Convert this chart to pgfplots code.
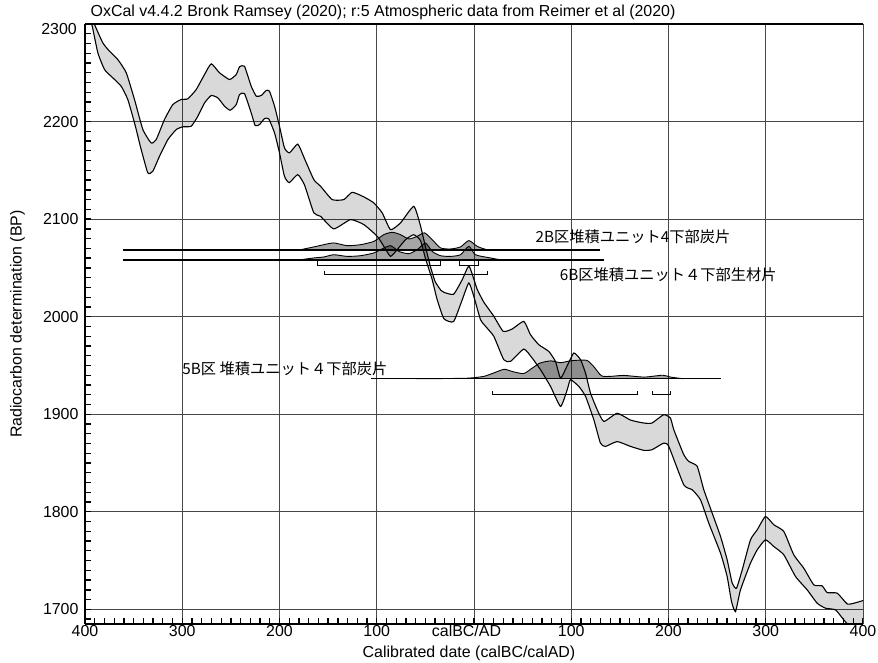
\documentclass[border=0pt]{standalone}
\usepackage{pgfplots}
\pgfplotsset{compat=1.18}
\usepgfplotslibrary{fillbetween}
\usepackage{fontspec}
\setmainfont{Liberation Sans}
\newfontfamily\jp{Noto Sans CJK JP}
\definecolor{gridc}{RGB}{70,70,70}
\begin{document}
\begin{tikzpicture}
\begin{axis}[name=ax, scale only axis, width=778bp, height=600bp,
  xmin=-400, xmax=400, ymin=1685, ymax=2300,
  axis line style={draw=none},
  xtick={-400,-300,...,400},
  xticklabels={400,300,200,100,{calBC/AD\kern15bp},100,200,300,400},
  ytick={1700,1800,...,2300},
  yticklabels={1700,1800,1900,2000,2100,2200,{}},
  minor xtick={-400,-390,...,400}, minor ytick={1690,1700,...,2300},
  grid=major, major grid style={draw=gridc, line width=0.9bp},
  tick align=inside, xtick pos=left, ytick pos=left,
  major tick length=6bp, minor tick length=6bp,
  tick style={black, line width=1.3bp},
  tick label style={font=\fontsize{16}{18}\selectfont},
  xticklabel style={yshift=2.5bp},
  yticklabel style={xshift=-3bp},
  /pgf/number format/assume math mode=true,
]
% calibration curve (upper and lower)
\addplot[name path=U, draw=black, line width=1.1bp, smooth, tension=0.3] coordinates {
(-400,2325) (-390.2,2299.5) (-381.7,2280.7) (-374.8,2272.1) (-366.3,2263.6) (-357.6,2250)
(-349.1,2222.6) (-340.5,2191.8) (-332,2178.1) (-326.8,2181.5) (-318.3,2202) (-309.7,2217.4)
(-301.1,2222.6) (-294.3,2223.3) (-285.7,2232.8) (-277.1,2248.2) (-270.2,2259.2) (-261.7,2250)
(-251.4,2243.1) (-244.5,2248.2) (-241.1,2256.1) (-236,2256.7) (-229.1,2236.2) (-223.9,2226)
(-218.8,2226.7) (-213.7,2231.8) (-210.3,2231.1) (-205.1,2215.7) (-200,2195.2) (-194.9,2173)
(-189.7,2167.9) (-181.2,2176.9) (-174.3,2162) (-164.7,2140.5) (-157.8,2133.7) (-145.8,2120)
(-133.9,2120) (-125.3,2127.5) (-113.3,2122.8) (-103,2116.6) (-94.4,2106.4) (-85.9,2089.2)
(-75.6,2096.1) (-61.9,2113.1) (-55,2093) (-50,2072) (-45,2052) (-40,2036) (-34,2027)
(-31,2025) (-21,2023) (-12.1,2038) (-5.3,2052) (0,2038) (3.3,2028) (10,2015) (20,2001)
(30,1985) (39.3,1987.4) (51.2,1995.2) (58.1,1981.5) (66.6,1971.3) (76.9,1964.4) (83.8,1954)
(89,1937) (96,1950) (102.6,1962.8) (109.5,1956) (114.7,1942) (119.8,1921.7) (126.7,1904.6)
(133.5,1892.6) (147.2,1901) (161,1894) (174.6,1891) (183,1891) (195,1899.5) (202,1896)
(205.5,1884) (215.7,1858.5) (220.9,1851.6) (229.5,1846.6) (236.3,1822.6) (244.9,1798.7)
(253.5,1774.7) (260.3,1750.8) (265.5,1726.9) (269.9,1721.7) (275.8,1740.5) (284.3,1771.3)
(291.2,1781.5) (299.7,1795.2) (308.3,1786.7) (318.6,1779.8) (328.8,1755.9) (339.1,1742.2)
(349.4,1725.1) (358,1724.1) (363.2,1717.2) (373.5,1716.6) (383.7,1705.6) (390.6,1706.3) (400,1709)
};
\addplot[name path=L, draw=black, line width=1.1bp, smooth, tension=0.3] coordinates {
(-400,2318) (-393,2299.5) (-386.8,2270.5) (-379.9,2253.3) (-371.4,2244.8) (-362.8,2236.2)
(-356,2222.6) (-349.1,2198.7) (-342.2,2171.3) (-335.4,2147.4) (-330.3,2149) (-323.4,2164.4)
(-314.8,2181.5) (-306.2,2191.8) (-299.4,2194.6) (-290.8,2195.2) (-284,2205.4) (-277.1,2219.1)
(-270.2,2226.7) (-263.4,2224.3) (-256.5,2215.7) (-250.7,2211.6) (-244.5,2217.4) (-241.1,2227.7)
(-236,2228.7) (-229.1,2208.9) (-225,2195.9) (-220.6,2196.9) (-215.4,2203.1) (-211,2202.7)
(-205.1,2188.4) (-200,2167.9) (-194.9,2143.9) (-190,2137.4) (-181.2,2145.6) (-174.3,2135)
(-164.7,2106.4) (-157.8,2102.9) (-144.2,2090) (-127,2099.5) (-113.3,2094.4) (-99.5,2082.4)
(-92.7,2072.1) (-85.9,2061.8) (-79,2068.7) (-70.4,2079) (-62,2084) (-55,2078) (-50,2060)
(-43,2038) (-38,2018) (-31,1998) (-21,1995) (-12.1,2017.4) (-5.3,2034.6) (-0.2,2020.8)
(6.7,1997) (12,1990) (20.4,1979.8) (30.6,1955.9) (37.5,1954.2) (51.2,1966.8) (59.8,1957.6)
(68.4,1945.6) (78.7,1928.5) (89,1908) (95.8,1925) (99.2,1935.4) (107.8,1928.5) (114.7,1918.3)
(123.2,1894.4) (130,1870.4) (135.2,1867) (147.2,1872) (161,1867) (174.6,1863) (183,1863.6)
(195,1870.4) (200.3,1867) (215.7,1827.7) (224.4,1822.6) (232.9,1812.3) (241.4,1788.4)
(253.5,1757.6) (260.3,1733.7) (264.8,1708) (268.9,1697.7) (274,1720) (284.3,1747.4)
(291.2,1761) (299.7,1771.3) (308.3,1764.4) (318.6,1755.9) (330.6,1733.7) (342.6,1720)
(352.9,1706.3) (361.4,1701.2) (371.7,1699.5) (380.3,1689.2) (387.1,1682) (400,1675)
};
\addplot[fill=black, fill opacity=0.15, draw=none] fill between[of=U and L];
% 2B distribution
\addplot[smooth, tension=0.4, fill=black, fill opacity=0.35, draw=black, line width=0.9bp] coordinates {
(-180,2068) (-178,2068.7) (-164.7,2071.5) (-154.4,2073.8) (-144.2,2075.6) (-130.4,2072.8)
(-116.7,2073.8) (-103,2077.2) (-92.7,2084.1) (-84.1,2086.5) (-75.6,2084.1) (-67,2079.7)
(-58.4,2082.4) (-50.9,2085.9) (-43,2079) (-34.4,2070.5) (-24.2,2069.4) (-13.9,2071.5)
(-5.3,2078) (3.3,2072.1) (13.6,2068.7) (30,2068.2) (45,2068)
};
% 6B distribution
\addplot[smooth, tension=0.4, fill=black, fill opacity=0.35, draw=black, line width=0.9bp] coordinates {
(-180,2057.7) (-178,2058.4) (-164.7,2060.2) (-154.4,2061.2) (-144.2,2063.5) (-130.4,2061.8)
(-116.7,2062.5) (-103,2065.3) (-96.1,2068.7) (-85.9,2072.8) (-77.3,2066.9) (-67,2064.6)
(-58.4,2068.7) (-49.9,2075.5) (-43,2066.9) (-34.4,2062.5) (-24.2,2061.8) (-13.9,2063.5)
(-5.3,2072.1) (1.5,2063.5) (17,2060.2) (27.2,2058.4) (40,2057.9) (50,2057.7)
};
% 5B distribution
\addplot[smooth, tension=0.4, fill=black, fill opacity=0.35, draw=black, line width=0.9bp] coordinates {
(-60,1936.4) (-20,1936.7) (-4,1937.1) (10,1938.8) (20,1942.2) (31,1946.1) (39,1943.9)
(51,1941.7) (60,1947.4) (68,1952.5) (79,1954.7) (89,1952.8) (96,1954.2) (104,1955.2)
(116,1955.2) (123,1949) (131,1939.5) (140,1938.8) (154,1939.8) (175,1938.1) (194,1940)
(202,1938.1) (215,1936.4)
};
% baselines
\addplot[black, line width=1.8bp] coordinates {(-360.7,2068) (129.4,2068)};
\addplot[black, line width=1.8bp] coordinates {(-360.7,2057.7) (133.5,2057.7)};
\addplot[black, line width=1.2bp] coordinates {(-105.7,1936.4) (254.2,1936.4)};
% ranges
\addplot[black, line width=1bp] coordinates {(-161.2,2056.7) (-161.2,2052.6) (-34.4,2052.6) (-34.4,2056.7)};
\addplot[black, line width=1bp] coordinates {(-14.6,2056.7) (-14.6,2052.6) (4.4,2052.6) (4.4,2056.7)};
\addplot[black, line width=1bp] coordinates {(-153.7,2047.2) (-153.7,2043.1) (14.2,2043.1) (14.2,2047.2)};
\addplot[black, line width=1bp] coordinates {(18.7,1923.4) (18.7,1920) (168.4,1920) (168.4,1923.4)};
\addplot[black, line width=1bp] coordinates {(183.9,1923.4) (183.9,1920) (202,1920) (202,1923.4)};
% labels
\node[anchor=west, inner sep=0, font=\jp\fontsize{15.3}{17}\selectfont] at (axis cs:63.2,2082.4) {2B区堆積ユニット4下部炭片};
\node[anchor=west, inner sep=0, font=\jp\fontsize{15.3}{17}\selectfont] at (axis cs:88.2,2043.1) {6B区堆積ユニット４下部生材片};
\node[anchor=west, inner sep=0, font=\jp\fontsize{15.3}{17}\selectfont] at (axis cs:-300,1946.4) {5B区 堆積ユニット４下部炭片};
\end{axis}
\draw[line width=2bp] (ax.north west) -- (ax.north east);
\draw[line width=2.4bp] (ax.south west) -- (ax.south east);
\draw[line width=1.8bp] (ax.south west) -- (ax.north west);
\draw[gridc, line width=0.9bp] (ax.south east) -- (ax.north east);
\node[anchor=east, inner sep=0, font=\fontsize{16}{18}\selectfont] at ([xshift=-8bp,yshift=-5bp]ax.north west) {2300};
\node[anchor=west, inner sep=0, font=\fontsize{16}{18}\selectfont] at ([xshift=5.5bp,yshift=12bp]ax.north west) {OxCal v4.4.2 Bronk Ramsey (2020); r:5 Atmospheric data from Reimer et al (2020)};
\node[inner sep=0, font=\fontsize{16}{18}\selectfont] at ([xshift=-5bp,yshift=-29bp]ax.south) {Calibrated date (calBC/calAD)};
\node[inner sep=0, rotate=90, font=\fontsize{16}{18}\selectfont] at ([xshift=-67.5bp]ax.west) {Radiocarbon determination (BP)};
\pgfresetboundingbox
\path ([shift={(-85bp,-38bp)}]ax.south west) rectangle ([shift={(15bp,24bp)}]ax.north east);
\end{tikzpicture}
\end{document}
